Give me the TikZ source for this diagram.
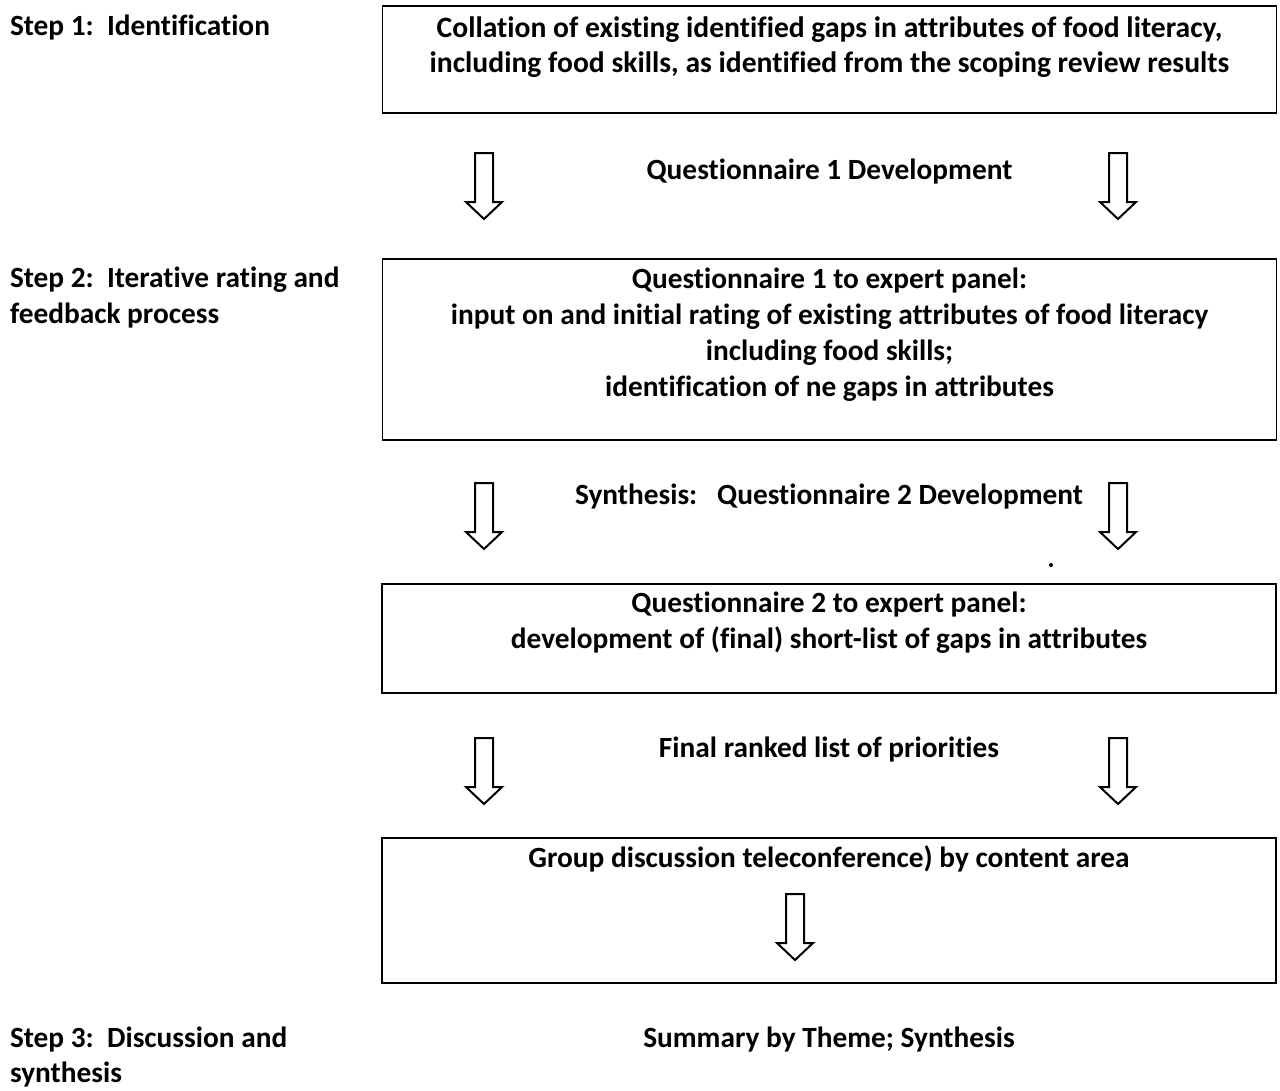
\documentclass[tikz,border=0pt]{standalone}
\usepackage{fontspec}
\setmainfont{Carlito}[Ligatures=NoCommon]
\usetikzlibrary{positioning}

\begin{document}
\begin{tikzpicture}[x=0.75pt, y=-0.75pt,
  every node/.style={font=\fontsize{22}{27}\selectfont\bfseries, inner sep=0pt, outer sep=0pt},
  panel/.style={draw, line width=1.4pt, minimum width=894*0.75pt},
  steplabel/.style={anchor=base west, text width=360*0.75pt, align=flush left},
  midlabel/.style={anchor=base},
  boxtext/.style={anchor=base, text width=880*0.75pt, align=flush center},
  downarrow/.pic={\draw[line width=1.5pt, fill=white]
    (-9,0) -- (9,0) -- (9,49) -- (18,49) -- (0,66) -- (-18,49) -- (-9,49) -- cycle;}]
\useasboundingbox (0,0) rectangle (1280,1090);

% boxes
\node[panel, minimum height=107*0.75pt] (b1) at (829.5,59.5) {};
\node[panel, minimum height=181*0.75pt] (b2) at (829.5,349.5) {};
\node[panel, minimum height=109*0.75pt] (b3) at (829,638.5) {};
\node[panel, minimum height=145*0.75pt] (b4) at (829,910.5) {};

% box texts
\node[boxtext, font=\fontsize{22.2}{26}\selectfont\bfseries] (t1) at (829.5,37.5)
  {Collation of existing identified gaps in attributes of food literacy,\\
  including food skills, as identified from the scoping review results};
\node[boxtext] (t2) at (829.5,288) {Questionnaire 1 to expert panel:\\
  input on and initial rating of existing attributes of food literacy\\
  including food skills;\\
  identification of ne gaps in attributes};
\node[boxtext] (t3) at (829,612.5) {Questionnaire 2 to expert panel:\\
  development of (final) short-list of gaps in attributes};
\node[boxtext] (t4) at (829,867) {Group discussion teleconference) by content area};

% step labels
\node[steplabel] (s1) at (10,35) {Step 1:\ \ Identification};
\node[steplabel] (s2) at (10,287) {Step 2:\ \ Iterative rating and\\feedback process};
\node[steplabel, font=\fontsize{22}{26.25}\selectfont\bfseries] (s3) at (10,1047) {Step 3:\ \ Discussion and\\synthesis};

% between boxes
\node[midlabel] (m1) at (829.5,179) {Questionnaire 1 Development};
\node[midlabel] (m2) at (829,504) {Synthesis:\ \ \ Questionnaire 2 Development};
\node[midlabel] (m3) at (829,757) {Final ranked list of priorities};
\node[midlabel] (m4) at (829,1047) {Summary by Theme; Synthesis};

% block arrows
\foreach \ya in {153,483,738} {
  \pic at (484,\ya) {downarrow};
  \pic at (1118,\ya) {downarrow};
}
\pic at (795,894) {downarrow};

\fill (1051,565) circle (2);
\end{tikzpicture}
\end{document}
